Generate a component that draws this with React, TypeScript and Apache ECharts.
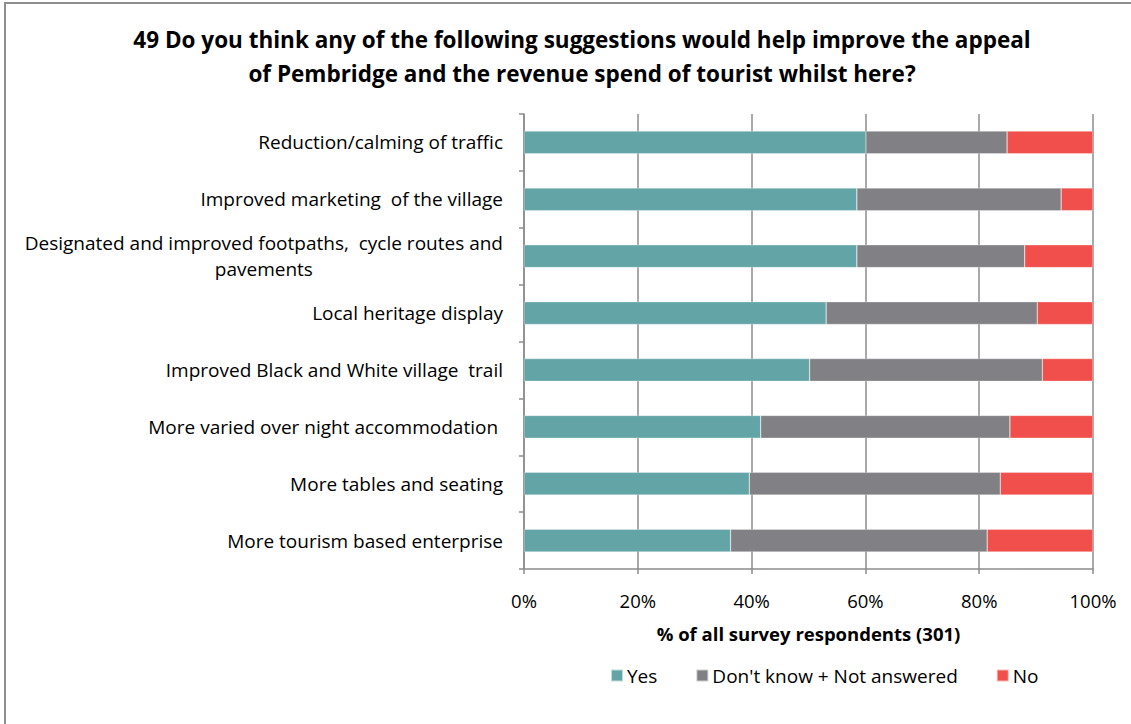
import React, { useEffect, useRef } from "react";
import * as echarts from "echarts";

const categories = [
  "Reduction/calming of traffic",
  "Improved marketing  of the village",
  "Designated and improved footpaths,  cycle routes and\npavements",
  "Local heritage display",
  "Improved Black and White village  trail",
  "More varied over night accommodation ",
  "More tables and seating",
  "More tourism based enterprise",
];
const yesValues = [60.1, 58.5, 58.5, 53.1, 50.2, 41.6, 39.6, 36.3];
const dkValues = [24.8, 35.9, 29.5, 37.1, 40.9, 43.8, 44.1, 45.1];
const noValues = [15.1, 5.6, 12.0, 9.8, 8.9, 14.6, 16.3, 18.6];
const seriesNames = ["Yes", "Don't know + Not answered", "No"];
const xTicks = [0, 20, 40, 60, 80, 100];
const titleText =
  "49 Do you think any of the following suggestions would help improve the appeal\nof Pembridge and the revenue spend of tourist whilst here?";
const xAxisName = "% of all survey respondents (301)";

const FONT = "Open Sans";
const COLORS = ["#63A5A7", "#818185", "#F04F4B"];
const GRID = "#8C8C8C";
const LABEL_SIZE = 19;

export default function App() {
  const ref = useRef<HTMLDivElement>(null);
  useEffect(() => {
    if (!ref.current) return;
    const chart = echarts.init(ref.current, undefined, { renderer: "svg" });
    const data = [yesValues, dkValues, noValues];
    chart.setOption({
      animation: false,
      backgroundColor: "#ffffff",
      textStyle: { fontFamily: FONT },
      graphic: [
        {
          type: "rect",
          shape: { x: 5, y: 3, width: 1200, height: 800 },
          style: { fill: "none", stroke: "#8E8E8E", lineWidth: 2 },
          silent: true,
        },
      ],
      title: {
        text: titleText,
        left: 577,
        top: 17,
        textAlign: "center",
        textStyle: {
          fontFamily: FONT,
          fontSize: 22.5,
          fontWeight: "bold",
          color: "#000",
          lineHeight: 34,
        },
      },
      legend: {
        data: seriesNames,
        left: 605,
        top: 661,
        icon: "rect",
        itemWidth: 12,
        itemHeight: 12,
        itemGap: 38,
        textStyle: { fontFamily: FONT, fontSize: LABEL_SIZE, color: "#000", padding: [0, 0, 0, -1] },
      },
      grid: { left: 524, right: 38, top: 114, bottom: 155, containLabel: false },
      xAxis: {
        type: "value",
        min: 0,
        max: 100,
        interval: 20,
        name: xAxisName,
        nameLocation: "middle",
        nameGap: 55,
        nameTextStyle: { fontFamily: FONT, fontSize: 18.5, fontWeight: "bold", color: "#000" },
        axisLine: { show: true, lineStyle: { color: GRID, width: 1.5 } },
        axisTick: { show: true, length: 5, lineStyle: { color: GRID, width: 1.5 } },
        axisLabel: {
          formatter: (v: number) => (xTicks.includes(v) ? v + "%" : ""),
          fontFamily: FONT,
          fontSize: 18.5,
          color: "#000",
          margin: 22,
        },
        splitLine: { show: true, lineStyle: { color: GRID, width: 1.5 } },
      },
      yAxis: {
        type: "category",
        data: categories,
        inverse: true,
        axisLine: { show: true, lineStyle: { color: GRID, width: 1.5 } },
        axisTick: { show: true, length: 5, alignWithLabel: false, lineStyle: { color: GRID, width: 1.5 } },
        axisLabel: {
          fontFamily: FONT,
          fontSize: LABEL_SIZE,
          color: "#000",
          margin: 21,
          align: "right",
          lineHeight: 26,
          formatter: (v: string) => {
            const parts = v.split("\n");
            if (parts.length === 1) return v;
            return "{a|" + parts[0] + "}\n{b|" + parts[1] + "}";
          },
          rich: {
            a: { fontFamily: FONT, fontSize: LABEL_SIZE, color: "#000", lineHeight: 26, align: "right" },
            b: { fontFamily: FONT, fontSize: LABEL_SIZE, color: "#000", lineHeight: 26, align: "center" },
          },
        },
        splitLine: { show: false },
      },
      series: seriesNames.map((name, i) => ({
        name,
        type: "bar",
        stack: "total",
        barWidth: "40%",
        data: data[i],
        itemStyle: { color: COLORS[i], borderColor: "rgba(255,255,255,0.6)", borderWidth: 0.5 },
      })),
    });
    return () => chart.dispose();
  }, []);
  return (
    <div
      ref={ref}
      style={{ position: "fixed", left: 0, top: 0, width: 1131, height: 724 }}
    />
  );
}
